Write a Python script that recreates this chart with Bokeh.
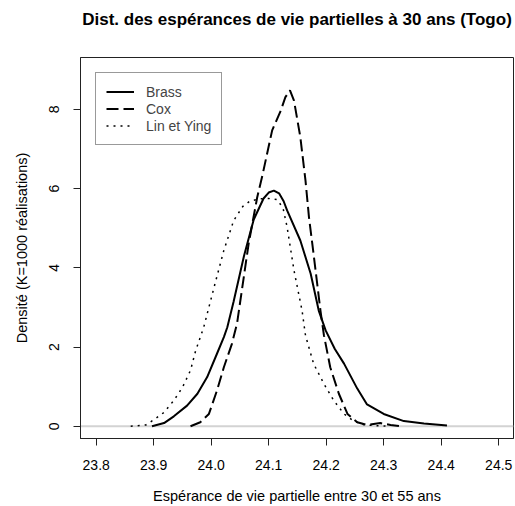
from bokeh.plotting import figure
from bokeh.models import Range1d, FixedTicker, Span, Legend, LegendItem, Title
from bokeh.embed import file_html
from bokeh.resources import INLINE

# ---- data ----
brass_x = [23.897, 23.918, 23.935, 23.958, 23.976, 23.993, 24.010, 24.022, 24.028, 24.039,
           24.057, 24.074, 24.091, 24.100, 24.109, 24.118, 24.126, 24.132, 24.155, 24.173,
           24.187, 24.199, 24.215, 24.231, 24.254, 24.271, 24.300, 24.335, 24.370, 24.410]
brass_y = [0.00, 0.08, 0.25, 0.52, 0.82, 1.24, 1.83, 2.25, 2.50, 3.15,
           4.30, 5.22, 5.75, 5.90, 5.95, 5.88, 5.68, 5.45, 4.69, 3.85,
           2.92, 2.42, 1.95, 1.58, 0.95, 0.55, 0.31, 0.13, 0.07, 0.02]

cox_x = [23.964, 23.981, 23.996, 24.010, 24.022, 24.036, 24.045, 24.065, 24.080, 24.089,
         24.106, 24.121, 24.129, 24.137, 24.144, 24.155, 24.164, 24.170, 24.178, 24.190,
         24.196, 24.207, 24.222, 24.237, 24.254, 24.271, 24.294, 24.312, 24.332]
cox_y = [0.00, 0.10, 0.31, 0.90, 1.49, 2.08, 2.60, 4.60, 5.78, 6.33,
         7.47, 7.97, 8.31, 8.48, 8.22, 7.30, 6.20, 5.28, 4.35, 2.92,
         2.30, 1.49, 0.82, 0.31, 0.10, 0.03, 0.08, 0.03, 0.00]

lin_x = [23.860, 23.886, 23.900, 23.918, 23.935, 23.950, 23.964, 23.973, 23.987, 24.005,
         24.022, 24.039, 24.055, 24.068, 24.085, 24.100, 24.115, 24.125, 24.132, 24.144,
         24.158, 24.164, 24.178, 24.196, 24.213, 24.231, 24.248, 24.265, 24.290, 24.310]
lin_y = [0.00, 0.03, 0.16, 0.35, 0.65, 0.98, 1.41, 1.91, 2.50, 3.51,
         4.44, 5.19, 5.55, 5.69, 5.74, 5.75, 5.72, 5.50, 5.03, 3.93,
         2.92, 2.29, 1.58, 1.07, 0.65, 0.31, 0.13, 0.04, 0.01, 0.00]

x_ticks = [23.8, 23.9, 24.0, 24.1, 24.2, 24.3, 24.4, 24.5]
y_ticks = [0, 2, 4, 6, 8]
series_names = ["Brass", "Cox", "Lin et Ying"]
title_text = "Dist. des espérances de vie partielles à 30 ans (Togo)"

FONT = "Liberation Sans"

p = figure(width=515, height=506,
           x_range=Range1d(23.7727, 24.5257), y_range=Range1d(-0.31, 9.31),
           output_backend="svg", toolbar_location=None, title=None,
           min_border_left=80, min_border_right=2, min_border_top=57, min_border_bottom=68)

# spacer between frame and title, then the title itself
p.add_layout(Title(text=" ", text_font_size="11px", text_font=FONT), "above")
p.add_layout(Title(text=title_text, text_font=FONT, text_font_size="17px",
                   text_font_style="bold", text_color="black", align="center"), "above")

p.grid.visible = False
p.outline_line_color = "#222222"
p.outline_line_width = 1

for ax in (p.xaxis[0], p.yaxis[0]):
    ax.axis_line_color = "#222222"
    ax.major_tick_line_color = "#222222"
    ax.major_tick_out = 7
    ax.major_tick_in = 0
    ax.minor_tick_line_color = None
    ax.major_label_text_font = FONT
    ax.major_label_text_font_size = "14px"
    ax.major_label_text_color = "black"
    ax.axis_label_text_font = FONT
    ax.axis_label_text_font_size = "14.5px"
    ax.axis_label_text_font_style = "normal"
    ax.axis_label_text_color = "black"

p.xaxis.ticker = FixedTicker(ticks=x_ticks)
p.xaxis.major_label_overrides = {t: f"{t:.1f}" for t in x_ticks}
p.xaxis.axis_label = "Espérance de vie partielle entre 30 et 55 ans"
p.xaxis.major_label_standoff = 14
p.xaxis.axis_label_standoff = 15

p.yaxis.ticker = FixedTicker(ticks=y_ticks)
p.yaxis.axis_label = "Densité (K=1000 réalisations)"
p.yaxis.major_label_orientation = "vertical"
p.yaxis.major_label_standoff = 14
p.yaxis.axis_label_standoff = 17

p.add_layout(Span(location=0, dimension="width", line_color="#d3d3d3",
                  line_width=2, level="underlay"))

r1 = p.line(brass_x, brass_y, line_color="black", line_width=2)
r2 = p.line(cox_x, cox_y, line_color="black", line_width=2, line_dash="12 5")
r3 = p.line(lin_x, lin_y, line_color="black", line_width=1.5, line_dash="2 5")

legend = Legend(items=[LegendItem(label=series_names[0], renderers=[r1]),
                       LegendItem(label=series_names[1], renderers=[r2]),
                       LegendItem(label=series_names[2], renderers=[r3])],
                location="top_left", margin=15, padding=10, spacing=0,
                glyph_width=28, glyph_height=17, label_height=17, label_standoff=12,
                label_text_font=FONT, label_text_font_size="14px",
                border_line_color="#333333", border_line_width=1,
                background_fill_alpha=1.0)
p.add_layout(legend)

open("out.html", "w").write(file_html(p, INLINE))
